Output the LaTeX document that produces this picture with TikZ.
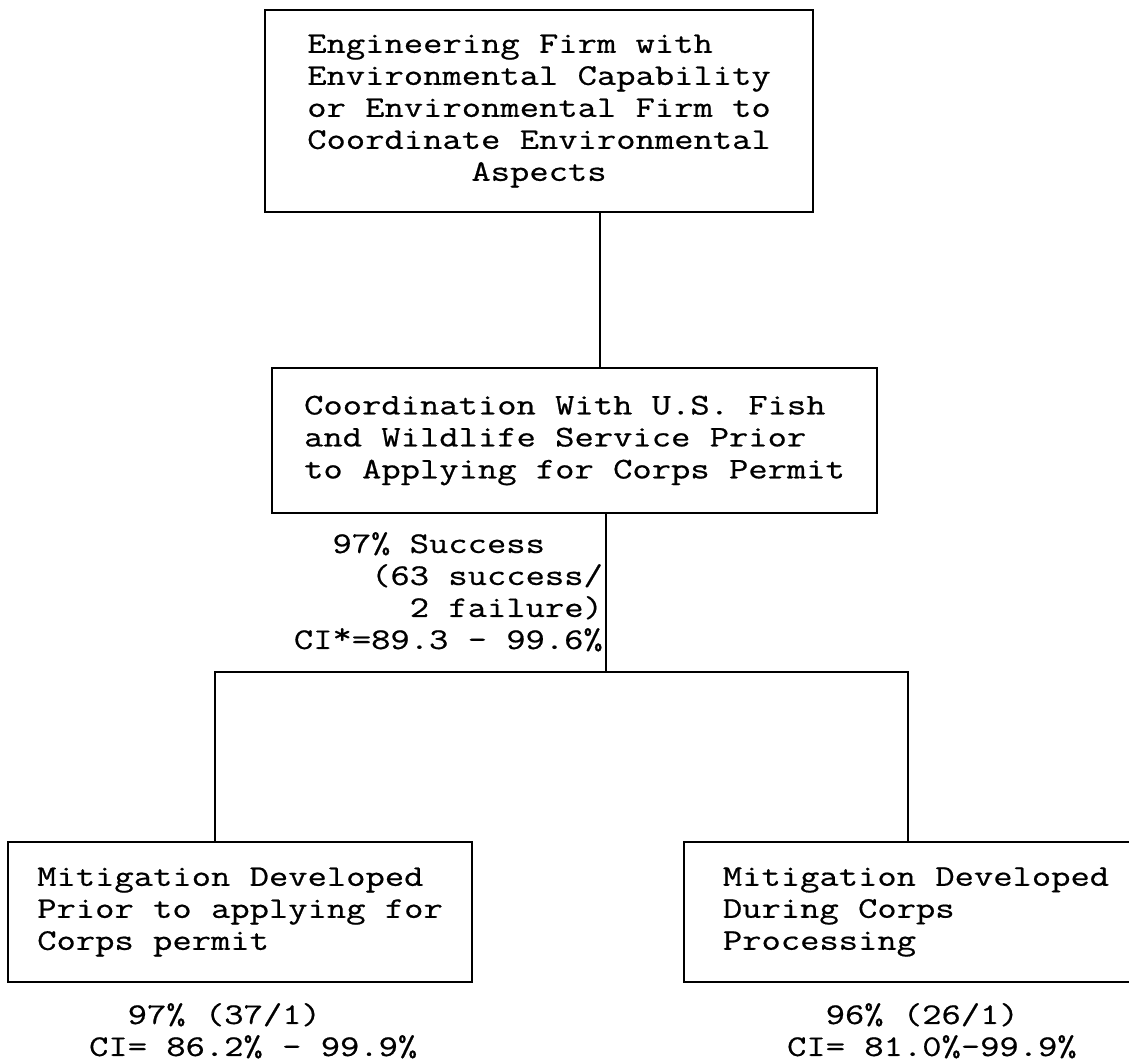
\documentclass[tikz,border=0pt]{standalone}
\usepackage{fontspec}
\newfontfamily\typewriter{Latin Modern Mono}[FakeStretch=1.25,FakeBold=0.6]
\usetikzlibrary{positioning}
\newcommand\pad[1]{\hspace*{#1\fontcharwd\font`M}}

\begin{document}
\begin{tikzpicture}[x=0.5pt,y=-0.5pt,line width=1.1pt,
                    every node/.style={font=\typewriter\fontsize{15}{16}\selectfont\frenchspacing},
                    box/.style={rectangle,draw,align=left,inner sep=0pt},
                    stat/.style={align=left,inner sep=0pt}]

  \useasboundingbox (0,0) rectangle (1129,1062);
  \clip (0,0) rectangle (1129,1062);

  \node[box,minimum width=274pt,minimum height=101pt] (firm) at (539,111)
    {Engineering Firm with\\Environmental Capability\\or Environmental Firm to\\Coordinate Environmental\\\pad{8.5}Aspects};

  \node[box,minimum width=302.5pt,minimum height=72.5pt] (fws) at (574.5,440.5)
    {Coordination With U.S. Fish\\and Wildlife Service Prior\\to Applying for Corps Permit};
  \node[stat,anchor=north east] (rate) at (604,531)
    {\pad{2}97\% Success\\\pad{4}(63 success/\\\pad{6}2 failure)\\CI\raisebox{.4ex}{*}=89.3 - 99.6\%};

  \node[box,minimum width=232pt,minimum height=70pt] (prior) at (240,912)
    {Mitigation Developed\\Prior to applying for\\Corps permit};
  \node[box,minimum width=232pt,minimum height=70pt] (during) at (916,912)
    {Mitigation Developed\\During Corps\\Processing};

  \node[stat,anchor=north west] (prior rate) at (88,1002)
    {\pad{2}97\% (37/1)\\CI= 86.2\% - 99.9\%};
  \node[stat,anchor=north west] (during rate) at (786,1002)
    {\pad{2}96\% (26/1)\\CI= 81.0\%-99.9\%};

  % tree lines
  \coordinate (fork) at (606,672);
  \coordinate (fork left) at (215,672);
  \coordinate (fork right) at (908,672);

  \draw ([xshift=30.5pt]firm.south) -- ([xshift=30.5pt]firm.south |- fws.north);
  \draw (fws.south -| fork) -- (fork);
  \draw (prior.north -| fork left) -- (fork left) -- (fork right) -- (during.north -| fork right);

\end{tikzpicture}
\end{document}
